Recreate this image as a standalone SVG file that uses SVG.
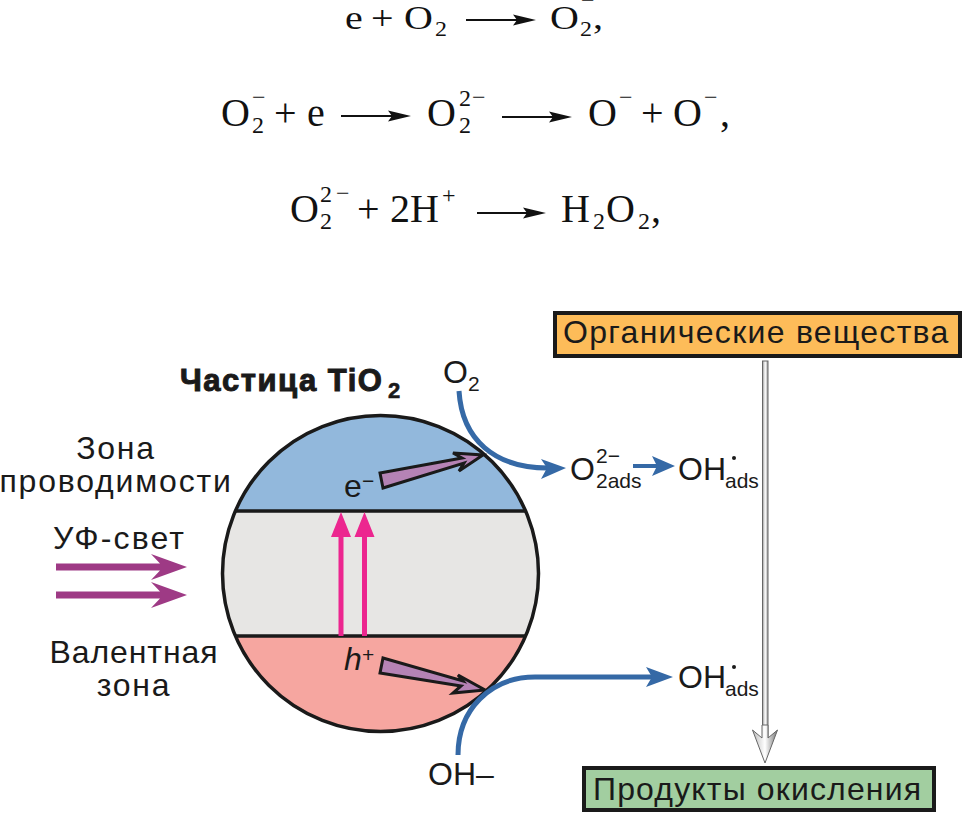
<svg xmlns="http://www.w3.org/2000/svg" width="963" height="813" viewBox="0 0 963 813">
<style>
.m{font-family:"Liberation Serif","Times New Roman",serif;font-size:40px;fill:#111}
.ms{font-family:"Liberation Serif","Times New Roman",serif;font-size:24px;fill:#111}
.s{font-family:"Liberation Sans",Arial,sans-serif;font-size:32px;fill:#1a1a1a}
.sm{font-family:"Liberation Sans",Arial,sans-serif;font-size:21px;fill:#1a1a1a}
.c{text-anchor:middle}
.eq{stroke:#111;stroke-width:2.2;fill:none}
.eqh{fill:#111}
.blue{stroke:#3569a6;stroke-width:5;fill:none}
.blueh{fill:#3569a6}
.uv{fill:#9e3a85}
.pink{fill:#ec268f}
.pa{fill:#b583b5;stroke:#1a1a1a;stroke-width:3;stroke-linejoin:miter}
.box{stroke:#1a1a1a;stroke-width:4}
.band{stroke:#1a1a1a;stroke-width:3.5}
</style>
<defs>
<linearGradient id="sh" x1="0" x2="1" y1="0" y2="0"><stop offset="0" stop-color="#999"/><stop offset=".5" stop-color="#fff"/><stop offset="1" stop-color="#999"/></linearGradient>
<linearGradient id="hd" x1="0" x2="1" y1="0" y2="0"><stop offset="0" stop-color="#bbb"/><stop offset=".5" stop-color="#fff"/><stop offset="1" stop-color="#777"/></linearGradient>
</defs>

<g id="equations">
<g transform="translate(0 29) scale(1 .85) translate(0 -29)">
<text class="m" y="29"><tspan x="345">e</tspan><tspan x="371">+</tspan><tspan x="404">O</tspan></text>
<text class="ms" x="435" y="37">2</text>
<text class="m" x="550" y="29">O</text><text class="ms" x="580" y="37">2</text><text class="m" x="593" y="29">,</text>
</g>
<text class="ms" x="581" y="8">−</text>

<text class="m" y="126"><tspan x="221">O</tspan></text><text class="ms" x="252" y="133">2</text><text class="ms" x="252" y="104.500">−</text>
<text class="m" y="126"><tspan x="274">+</tspan><tspan x="307">e</tspan><tspan x="427">O</tspan></text>
<text class="ms" x="459" y="133">2</text><text class="ms" x="459" y="106">2</text><text class="ms" x="472" y="104.500">−</text>
<text class="m" y="126"><tspan x="588">O</tspan></text><text class="ms" x="619" y="104.500">−</text>
<text class="m" y="126"><tspan x="641">+</tspan><tspan x="673">O</tspan></text><text class="ms" x="704" y="104.500">−</text><text class="m" x="720" y="126">,</text>

<text class="m" y="222"><tspan x="290">O</tspan></text><text class="ms" x="320" y="229">2</text><text class="ms" x="320" y="202">2</text><text class="ms" x="336" y="200.500">−</text>
<text class="m" y="222"><tspan x="357">+</tspan><tspan x="390">2H</tspan></text><text class="ms" x="442" y="203">+</text>
<text class="m" y="222" x="561">H</text><text class="ms" x="593" y="229">2</text><text class="m" x="606" y="222">O</text><text class="ms" x="638" y="229">2</text><text class="m" x="651" y="222">,</text>
</g>

<g id="particle">
<path d="M235.500 511A158 158 0 0 1 525.500 511Z" fill="#92b8dc"/>
<path d="M235.500 511H525.500A158 158 0 0 1 525.500 636H235.500A158 158 0 0 1 235.500 511Z" fill="#e7e6e4"/>
<path d="M235.500 636H525.500A158 158 0 0 1 235.500 636Z" fill="#f6a6a0"/>
<circle cx="380.500" cy="573.500" r="158" fill="none" class="band"/>
<path d="M235.500 511H525.500M235.500 636H525.500" class="band" fill="none"/>
<text class="s" x="180" y="391" style="font-weight:700;font-size:31px;stroke:#1a1a1a;stroke-width:1;letter-spacing:1.5px">Частица TiO</text>
<text class="sm" x="388" y="398" style="font-weight:700;font-size:22px;stroke:#1a1a1a;stroke-width:.6">2</text>
<text class="s" x="344" y="497">e</text><text class="sm" x="362" y="488">−</text>
<text class="s" x="344" y="670" style="font-style:italic">h</text><text class="sm" x="362" y="662">+</text>
</g>

<g id="label-conduction"><text class="s c" x="116" y="459" style="letter-spacing:1.7px">Зона</text><text class="s c" x="116" y="492" style="letter-spacing:1.8px">проводимости</text></g>
<g id="label-uv"><text class="s" x="53" y="549" style="letter-spacing:2.1px">УФ-свет</text></g>
<g id="label-valence"><text class="s c" x="134" y="663" style="letter-spacing:.9px">Валентная</text><text class="s c" x="134" y="696" style="letter-spacing:1.7px">зона</text></g>

<g id="node-o2"><text class="s" x="443" y="383">O</text><text class="sm" x="468" y="391">2</text></g>
<g id="node-o2ads"><text class="s" x="570" y="480">O</text><text class="sm" x="596" y="488">2ads</text><text class="sm" x="596" y="463">2−</text></g>
<g id="node-ohads1"><text class="s" x="678" y="480">OH</text><text class="sm" x="725" y="488">ads</text><circle cx="734" cy="458" r="2" fill="#1a1a1a"/></g>
<g id="node-ohads2"><text class="s" x="678" y="688">OH</text><text class="sm" x="725" y="696">ads</text><circle cx="734" cy="667" r="2" fill="#1a1a1a"/></g>
<g id="node-oh"><text class="s" x="428" y="785">OH–</text></g>

<g id="node-organic"><rect class="box" x="555" y="313" width="405" height="43" fill="#fdbc59"/><text class="s" x="563" y="343" style="letter-spacing:1.3px">Органические вещества</text></g>
<g id="node-products"><rect class="box" x="584" y="768" width="350" height="42" fill="#a2cea0"/><text class="s" x="593" y="800" style="letter-spacing:1.15px">Продукты окисления</text></g>

<g id="connectors">
<path class="eq" d="M466 20H520"/><path class="eqh" d="M536 20L513 14.500L517 20L513 25.500Z"/>
<path class="eq" d="M341 116H395"/><path class="eqh" d="M411 116L388 110.500L392 116L388 121.500Z"/>
<path class="eq" d="M502 117H556"/><path class="eqh" d="M572 117L549 111.500L553 117L549 122.500Z"/>
<path class="eq" d="M477 213H530"/><path class="eqh" d="M546 213L523 207.500L527 213L523 218.500Z"/>

<path class="pink" d="M338.500 636V537H331L341 512L351 537H343.500V636Z"/>
<path class="pink" d="M362 636V537H354.500L364.500 512L374.500 537H367V636Z"/>
<path class="uv" d="M56 563.500H160L151 554L187 567L151 580L160 570.500H56Z"/>
<path class="uv" d="M56 591.500H160L151 582L187 595L151 608L160 598.500H56Z"/>

<path class="pa" d="M380 473L462 458L453 453L483 455L459 471L464 463L383 488Z"/>
<path class="pa" d="M383 658L463 681L458 675L485 690L453 693L461 686L380 673Z"/>

<path class="blue" d="M459 391C462 440 495 468 548 468"/><path class="blueh" d="M566 468L541 459L547 468L541 479Z"/>
<path class="blue" d="M633 466H658" style="stroke-width:4"/><path class="blueh" d="M675 466L652 456L657 466L652 476Z"/>
<path class="blue" d="M458 755C458 710 490 677 535 677H655"/><path class="blueh" d="M673 677L646 667L652 677L646 687Z"/>

<rect x="762.500" y="361" width="5.500" height="376" fill="url(#sh)" stroke="#666" stroke-width="1"/>
<path d="M765 763L752.500 730L762 738V725H768V738L777.500 730Z" fill="url(#hd)" stroke="#666" stroke-width="1"/>
</g>
</svg>
